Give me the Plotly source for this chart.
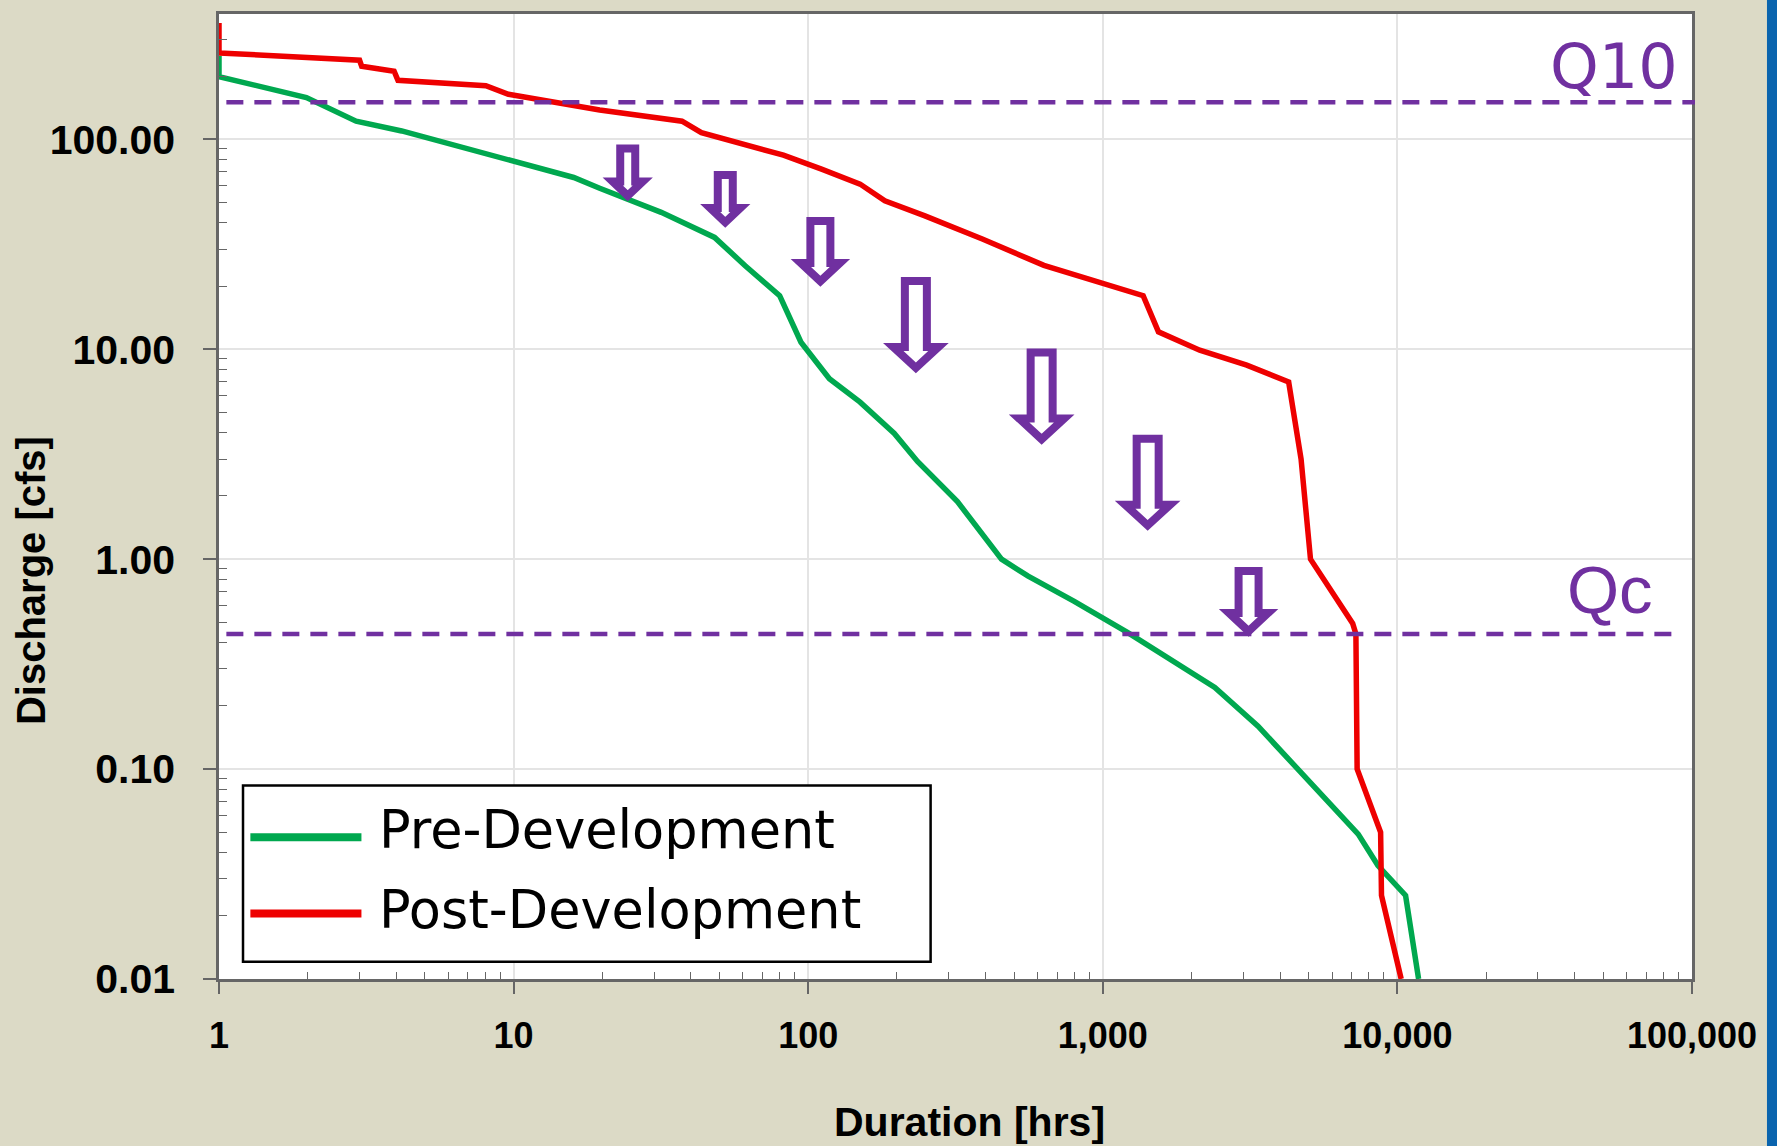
import plotly.graph_objects as go

# ---------------- data ----------------
series_names = ["Pre-Development", "Post-Development"]

pre_hours = [1, 1, 1.98, 2.92, 4.17, 9.6, 16, 19.6, 24.2, 31.7, 48.1, 61.1, 80, 94.5,
             118, 150, 196, 235, 321, 453, 558, 800, 1216, 2133, 2400, 3365, 4900,
             7360, 8590, 10660, 11800]
pre_cfs = [250, 199, 158, 122, 109.6, 80.4, 65.8, 58.5, 51.9, 44.9, 34.1, 25, 18, 10.8,
           7.24, 5.6, 3.97, 2.92, 1.88, 1.0, 0.83, 0.63, 0.447, 0.273, 0.245, 0.16, 0.09,
           0.049, 0.0347, 0.025, 0.01]

post_hours = [1, 1, 3.0, 3.05, 3.93, 4.05, 8.05, 9.6, 19.6, 37.3, 43.4, 82.4, 111, 150,
              182, 249, 390, 631, 1371, 1545, 2133, 3080, 4275, 4710, 5070, 7050, 7230,
              7300, 8770, 8830, 10300]
post_cfs = [358, 258, 238, 223, 211, 191, 180, 164, 138, 122, 107.6, 84, 72.1, 61.2,
            50.9, 43.2, 33.5, 25.1, 18.0, 12.1, 9.9, 8.4, 6.98, 3.0, 1.0, 0.494, 0.44,
            0.1, 0.05, 0.025, 0.01]

q10_cfs = 150
qc_cfs = 0.44
threshold_labels = ["Q10", "Qc"]

arrow_hours = [24.4, 52.3, 110, 232, 620, 1420, 3125]
arrow_tip_cfs = [50.6, 37.8, 19.8, 7.66, 3.5, 1.36, 0.426]

x_tick_vals = [1, 10, 100, 1000, 10000, 100000]
x_tick_text = ["1", "10", "100", "1,000", "10,000", "100,000"]
y_tick_vals = [0.01, 0.1, 1, 10, 100]
y_tick_text = ["0.01", "0.10", "1.00", "10.00", "100.00"]

x_title = "Duration [hrs]"
y_title = "Discharge [cfs]"

# ---------------- styles ----------------
GREEN = "#00A84F"
RED = "#EE0000"
PURPLE = "#7030A0"
BEIGE = "#DCDAC6"
AXIS = "#666666"
GRID = "#E4E4E4"

# arrow size classes: (total length, shaft width, head width, head height) in px
ARROW_DIMS = {"s": (57, 23, 48.5, 24), "m": (70, 28, 57.5, 28), "l": (96.5, 30, 63.5, 30.5)}
arrow_size_class = ["s", "s", "m", "l", "l", "l", "m"]
ARROW_STROKE = 8


def arrow_path(L, S, Hw, Hh, w=ARROW_STROKE):
    h = w / 2
    tip = 0.707 * w
    sh = S / 2 - h
    hw = Hw / 2 - 1.15 * w
    shoulder = Hh - h
    top = L - h
    pts = [(0, tip), (-hw, shoulder), (-sh, shoulder), (-sh, top), (sh, top),
           (sh, shoulder), (hw, shoulder)]
    return "M" + "L".join(f"{x:.1f},{y:.1f}" for x, y in pts) + "Z"


fig = go.Figure()
fig.add_trace(go.Scatter(x=pre_hours, y=pre_cfs, mode="lines", name=series_names[0],
                         line=dict(color=GREEN, width=5.5), showlegend=False))
fig.add_trace(go.Scatter(x=post_hours, y=post_cfs, mode="lines", name=series_names[1],
                         line=dict(color=RED, width=5.5), showlegend=False))

shapes = []
# white patch behind Q10 label (covers gridlines)
shapes.append(dict(type="rect", xref="paper", yref="paper", x0=0.7766, x1=0.998,
                   y0=0.8626, y1=0.9938, fillcolor="white", line=dict(width=0),
                   layer="between"))
# threshold lines
shapes.append(dict(type="line", xref="paper", yref="y", x0=0.005, x1=1.002,
                   y0=q10_cfs, y1=q10_cfs,
                   line=dict(color=PURPLE, width=4.5, dash="17px,11px"), layer="above"))
shapes.append(dict(type="line", xref="paper", yref="y", x0=0.005, x1=0.993,
                   y0=qc_cfs, y1=qc_cfs,
                   line=dict(color=PURPLE, width=4.5, dash="17px,11px"), layer="above"))
# hollow arrows
for hx, cy, cls in zip(arrow_hours, arrow_tip_cfs, arrow_size_class):
    L, S, Hw, Hh = ARROW_DIMS[cls]
    shapes.append(dict(type="path", xref="x", yref="y", xsizemode="pixel",
                       ysizemode="pixel", xanchor=hx, yanchor=cy,
                       path=arrow_path(L, S, Hw, Hh),
                       line=dict(color=PURPLE, width=ARROW_STROKE),
                       fillcolor="white", layer="above"))
# manual legend box
shapes.append(dict(type="rect", xref="paper", yref="paper", x0=0.0163, x1=0.4831,
                   y0=0.0179, y1=0.2004, fillcolor="white",
                   line=dict(color="black", width=2.5), layer="above"))
shapes.append(dict(type="line", xref="paper", yref="paper", x0=0.0213, x1=0.0967,
                   y0=0.147, y1=0.147, line=dict(color=GREEN, width=8), layer="above"))
shapes.append(dict(type="line", xref="paper", yref="paper", x0=0.0213, x1=0.0967,
                   y0=0.0679, y1=0.0679, line=dict(color=RED, width=8), layer="above"))
# blue bar at the right edge
shapes.append(dict(type="rect", xref="paper", yref="paper", x0=1.0509, x1=1.08,
                   y0=-0.2, y1=1.05, fillcolor="#0A64AE", line=dict(width=0),
                   layer="below"))

annotations = [
    dict(text=series_names[0], xref="paper", yref="paper", x=0.1075, y=0.1545,
         xanchor="left", yanchor="middle", showarrow=False,
         font=dict(family="DejaVu Sans", size=52.5, color="black")),
    dict(text=series_names[1], xref="paper", yref="paper", x=0.1075, y=0.0719,
         xanchor="left", yanchor="middle", showarrow=False,
         font=dict(family="DejaVu Sans", size=52.5, color="black")),
    dict(text=threshold_labels[0], xref="paper", yref="paper", x=0.947, y=0.9458,
         xanchor="center", yanchor="middle", showarrow=False,
         font=dict(family="DejaVu Sans", size=62, color=PURPLE)),
    dict(text=threshold_labels[1], xref="paper", yref="paper", x=0.9443, y=0.404,
         xanchor="center", yanchor="middle", showarrow=False,
         font=dict(family="Liberation Sans", size=67, color=PURPLE)),
    dict(text=y_title, xref="paper", yref="paper", x=-0.1272, y=0.413,
         xanchor="center", yanchor="middle", textangle=-90, showarrow=False,
         font=dict(family="Liberation Sans", size=40, color="black", weight="bold")),
    dict(text=x_title, xref="paper", yref="paper", x=0.5098, y=-0.1485,
         xanchor="center", yanchor="middle", showarrow=False,
         font=dict(family="Liberation Sans", size=41, color="black", weight="bold")),
]

x_minor = [m * 10 ** d for d in range(0, 5) for m in range(2, 10)]
y_minor = [m * 10 ** d for d in range(-2, 3) for m in range(2, 10)]

fig.update_layout(
    width=1777, height=1146,
    margin=dict(l=219, r=85, t=11, b=167),
    paper_bgcolor=BEIGE, plot_bgcolor="white",
    shapes=shapes, annotations=annotations,
    showlegend=False,
    xaxis=dict(type="log", range=[0, 5], tickmode="array", tickvals=x_tick_vals,
               ticktext=x_tick_text, ticks="outside", ticklen=12, tickwidth=1.5,
               tickcolor=AXIS, showline=True, linecolor=AXIS, linewidth=2.5,
               mirror=True, showgrid=True, gridcolor=GRID, gridwidth=1.5,
               zeroline=False, ticklabelstandoff=11,
               tickfont=dict(family="Liberation Sans", size=36, color="black",
                             weight="bold"),
               minor=dict(tickmode="array", tickvals=x_minor, ticks="inside",
                          ticklen=7, tickcolor=AXIS, tickwidth=1, showgrid=False)),
    yaxis=dict(type="log", range=[-2, 2.597], tickmode="array", tickvals=y_tick_vals,
               ticktext=y_tick_text, ticks="outside", ticklen=13, tickwidth=1.5,
               tickcolor=AXIS, showline=True, linecolor=AXIS, linewidth=2.5,
               mirror=True, showgrid=True, gridcolor=GRID, gridwidth=1.5,
               zeroline=False, ticklabelstandoff=20,
               tickfont=dict(family="Liberation Sans", size=41, color="black",
                             weight="bold"),
               minor=dict(tickmode="array", tickvals=y_minor, ticks="inside",
                          ticklen=8, tickcolor=AXIS, tickwidth=1, showgrid=False)),
)

fig.write_html("out.html")
